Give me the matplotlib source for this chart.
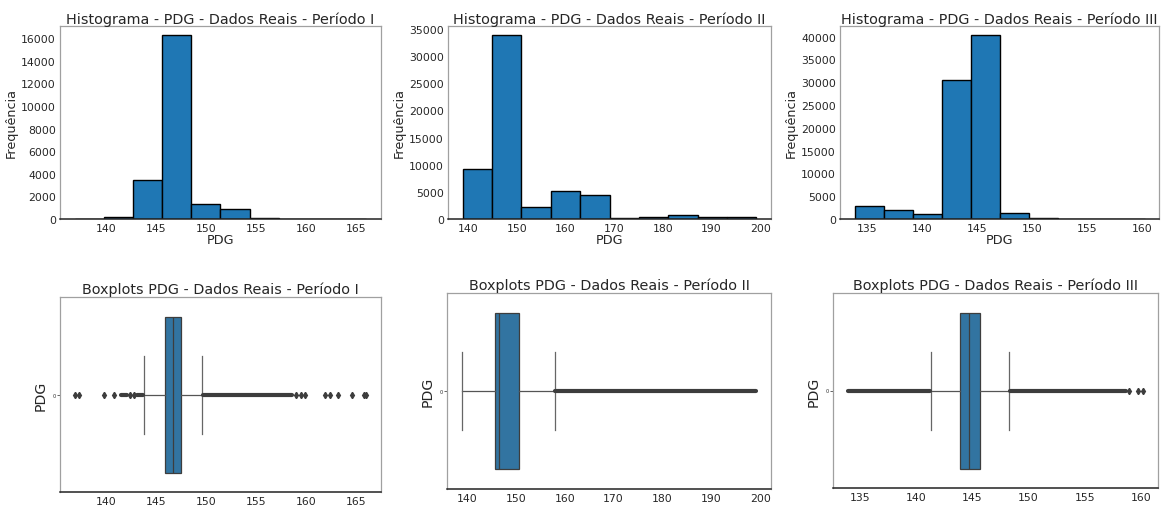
import matplotlib
matplotlib.use('Agg')
import matplotlib.pyplot as plt
import numpy as np

# ---------------- data ----------------
periods = ['I', 'II', 'III']

# histograms: 10 equal-width bins between data min and max
hist_min = [136.9, 138.9, 133.9]
hist_max = [166.0, 199.2, 160.2]
hist_counts_I = [8, 200, 3420, 16250, 1310, 890, 90, 15, 3, 5]
hist_counts_II = [9160, 33840, 2140, 5070, 4340, 250, 370, 670, 430, 400]
hist_counts_III = [2900, 1890, 1090, 30400, 40300, 1310, 300, 100, 80, 10]
hist_counts = [hist_counts_I, hist_counts_II, hist_counts_III]

hist_xticks = [[140, 145, 150, 155, 160, 165],
               [140, 150, 160, 170, 180, 190, 200],
               [135, 140, 145, 150, 155, 160]]
hist_yticks = [[0, 2000, 4000, 6000, 8000, 10000, 12000, 14000, 16000],
               [0, 5000, 10000, 15000, 20000, 25000, 30000, 35000],
               [0, 5000, 10000, 15000, 20000, 25000, 30000, 35000, 40000]]

# boxplot statistics
box_q1 = [145.95, 145.64, 143.86]
box_med = [146.70, 146.50, 144.66]
box_q3 = [147.50, 150.57, 145.67]
whis_lo = [143.81, 138.90, 141.31]
whis_hi = [149.60, 157.95, 148.22]

# isolated outliers
fliers_I = [136.9, 137.3, 139.86, 140.85, 142.47, 142.8, 158.95, 159.5, 159.9,
            161.88, 162.4, 163.2, 164.6, 165.8, 166.0]
fliers_II = []
fliers_III = [158.96, 159.7, 160.2]
fliers = [fliers_I, fliers_II, fliers_III]

# ranges where outliers are so dense they merge into a solid band
dense_I = [(141.5, 142.1), (143.1, 143.75), (149.7, 158.6)]
dense_II = [(158.0, 199.2)]
dense_III = [(133.9, 141.25), (148.3, 158.7)]
dense = [dense_I, dense_II, dense_III]

box_xticks = [[140, 145, 150, 155, 160, 165],
              [140, 150, 160, 170, 180, 190, 200],
              [135, 140, 145, 150, 155, 160]]

# ---------------- layout ----------------
W, H = 1161, 506
fig = plt.figure(figsize=(W / 100, H / 100), dpi=100)

def rect(l, r, t, b):
    return [l / W, 1 - b / H, (r - l) / W, (b - t) / H]

hist_rects = [rect(60, 381, 27, 220), rect(448, 771, 27, 220), rect(840, 1159, 27, 220)]
box_rects = [rect(60, 381, 298, 493), rect(447, 771, 294, 490), rect(833, 1158, 294, 489)]

TXT = '#262626'
FLIER = '#3d3d3d'

def style_spines(ax):
    for s in ['left', 'top', 'right']:
        ax.spines[s].set_color('#a0a0a0')
        ax.spines[s].set_linewidth(0.9)
    ax.spines['bottom'].set_color('#222222')
    ax.spines['bottom'].set_linewidth(1.1)
    ax.tick_params(length=0, labelsize=7.8, colors=TXT, pad=3)

for i, p in enumerate(periods):
    ax = fig.add_axes(hist_rects[i])
    edges = np.linspace(hist_min[i], hist_max[i], len(hist_counts[i]) + 1)
    ax.hist(edges[:-1], bins=edges, weights=hist_counts[i],
            color='#1f77b4', edgecolor='black', linewidth=1.0)
    ax.set_xticks(hist_xticks[i])
    ax.set_yticks(hist_yticks[i])
    style_spines(ax)
    ax.set_title(f'Histograma - PDG - Dados Reais - Período {p}', fontsize=10.4,
                 color=TXT, pad=2)
    ax.set_xlabel('PDG', fontsize=9.2, color=TXT, labelpad=0)
    ax.set_ylabel('Frequência', fontsize=9.2, color=TXT, labelpad=2)

for i, p in enumerate(periods):
    ax = fig.add_axes(box_rects[i])
    stats = [dict(med=box_med[i], q1=box_q1[i], q3=box_q3[i],
                  whislo=whis_lo[i], whishi=whis_hi[i], fliers=fliers[i])]
    ax.bxp(stats, positions=[0], widths=0.8, orientation='horizontal',
           patch_artist=True,
           boxprops=dict(facecolor='#3274a1', edgecolor='#3d3d3d', linewidth=0.9),
           medianprops=dict(color='#3d3d3d', linewidth=0.9),
           whiskerprops=dict(color='#555555', linewidth=0.9),
           capprops=dict(color='#666666', linewidth=0.9),
           flierprops=dict(marker='d', markersize=3.2, markerfacecolor=FLIER,
                           markeredgecolor=FLIER, linestyle='none'))
    for (a, b) in dense[i]:
        ax.plot([a, b], [0, 0], color=FLIER, linewidth=3.0,
                solid_capstyle='round', zorder=3)
    ax.set_ylim(0.5, -0.5)
    ax.set_yticks([0])
    ax.set_yticklabels(['0'])
    ax.set_xticks(box_xticks[i])
    ax.margins(x=0.05)
    style_spines(ax)
    ax.tick_params(axis='y', labelsize=3.5, length=2, width=0.5, pad=1)
    ax.set_title(f'Boxplots PDG - Dados Reais - Período {p}', fontsize=10.4,
                 color=TXT, pad=3)
    ax.set_ylabel('PDG', fontsize=10.2, color=TXT, labelpad=4)

fig.savefig('out.png', dpi=100, facecolor='white')
